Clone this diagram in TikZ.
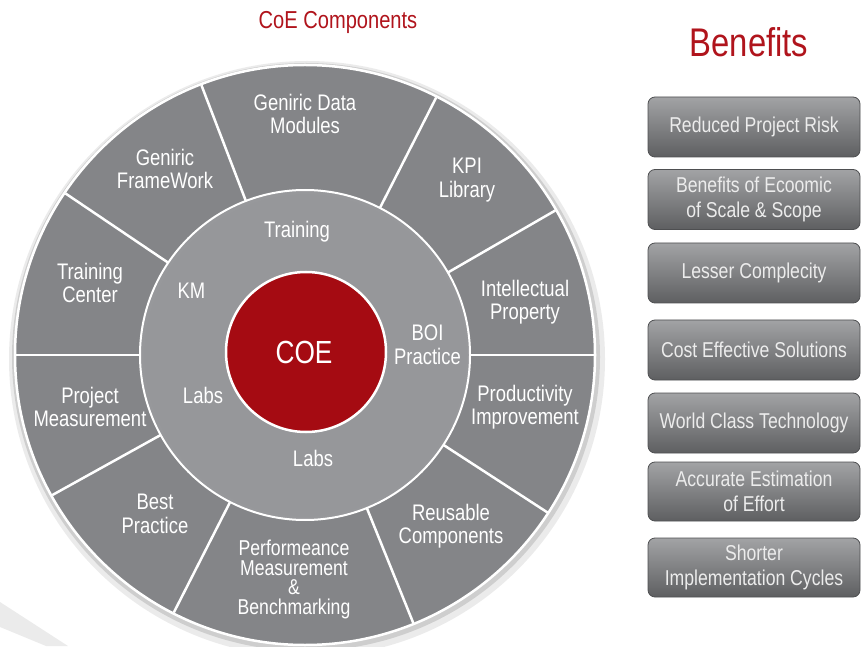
\documentclass[tikz,border=0pt]{standalone}
\usepackage{fontspec}
\setmainfont{Liberation Sans}[FakeStretch=0.82]
\usepackage{xcolor}
\usetikzlibrary{positioning}

\definecolor{coered}{HTML}{A50B12}
\definecolor{titlered}{HTML}{B0141C}
\definecolor{ringdark}{HTML}{5B5C5F}
\definecolor{ringmid}{HTML}{6D6E71}
\definecolor{ringlight}{HTML}{848588}
\definecolor{innerdark}{HTML}{96979A}
\definecolor{innerlight}{HTML}{B4B5B7}
\definecolor{boxtop}{HTML}{A2A3A5}
\definecolor{boxbot}{HTML}{5E5F61}
\definecolor{boxedge}{HTML}{4E4F51}
\definecolor{boxtext}{HTML}{ECECEC}
\definecolor{swoosh}{HTML}{EBEBEB}

\pgfdeclareradialshading{outershade}{\pgfpoint{0bp}{0bp}}{color(0bp)=(ringlight); color(28bp)=(ringlight); color(38bp)=(ringmid); color(50bp)=(ringdark)}
\pgfdeclareradialshading{innershade}{\pgfpoint{0bp}{0bp}}{color(0bp)=(innerdark); color(24bp)=(innerdark); color(50bp)=(innerlight)}

\tikzset{
  seglabel/.style={text=white,align=center,inner sep=0pt,font=\fontsize{22.5}{23.5}\selectfont},
  divider/.style={white,line width=2.5pt},
  benefit/.style={rectangle,rounded corners=7pt,draw=boxedge,line width=0.8pt,top color=boxtop,bottom color=boxbot,minimum width=212pt,minimum height=60pt,text=boxtext,align=center,inner sep=0pt,font=\fontsize{21.5}{25}\selectfont}
}

\begin{document}
\begin{tikzpicture}[x=1pt,y=1pt]
\useasboundingbox (0,0) rectangle (867,646);
\coordinate (c) at (305,291);

\fill[swoosh] (0,44) -- (68,0) -- (46,0) -- (0,19) -- cycle;

\fill[black,opacity=0.08] (c) ++(2,-4) circle (298);
\fill[black,opacity=0.12] (c) ++(1,-2) circle (294);
\shadedraw[shading=outershade,draw=white,line width=2.5pt] (c) circle (290);
\foreach \a in {0,30,63,111,146,180,209,243,292,327}
  \draw[divider,shift={(c)}] (\a:160) -- (\a:289);
\shadedraw[shading=innershade,draw=white,line width=2pt] (c) circle (165);
\node[circle,fill=coered,draw=white,line width=2.5pt,minimum size=160pt,inner sep=0pt] (core) at (306,294) {};
\node[text=white,font=\fontsize{32}{32}\selectfont,inner sep=0pt] (coe) at (304,293.5) {COE};

\node[seglabel] (gdm) at (305,532) {Geniric Data\\Modules};
\node[seglabel] (gfw) at (165,477) {Geniric\\FrameWork};
\node[seglabel] (kpi) at (467,466) {KPI\\Library};
\node[seglabel] (tc) at (90,363) {Training\\Center};
\node[seglabel] (ip) at (525,344) {Intellectual\\Property};
\node[seglabel] (pm) at (90,239) {Project\\Measurement};
\node[seglabel] (pi) at (525,239) {Productivity\\Improvement};
\node[seglabel] (bp) at (155,132) {Best\\Practice};
\node[seglabel] (rc) at (451,120) {Reusable\\Components};
\node[seglabel,font=\fontsize{21.5}{19.8}\selectfont] (perf) at (294,66.5) {Performeance\\Measurement\\\&\\Benchmarking};

\node[seglabel] (train) at (297,414.5) {Training};
\node[seglabel] (km) at (191.5,355) {KM};
\node[seglabel] (boi) at (427.5,301) {BOI\\Practice};
\node[seglabel] (labsl) at (203,251) {Labs};
\node[seglabel] (labsb) at (313,187.5) {Labs};

\node[text=titlered,font=\fontsize{24.5}{25}\selectfont,anchor=base] (comp) at (338,617) {CoE Components};
\node[text=titlered,font=\fontsize{40}{40}\selectfont,anchor=base] (ben) at (749,589) {Benefits};

\node[benefit] (b1) at (754,519) {Reduced Project Risk};
\node[benefit] (b2) at (754,446.5) {Benefits of Ecoomic\\of Scale \& Scope};
\node[benefit] (b3) at (754,373) {Lesser Complecity};
\node[benefit] (b4) at (754,296) {Cost Effective Solutions};
\node[benefit] (b5) at (754,223) {World Class Technology};
\node[benefit,minimum height=59pt] (b6) at (754,154.5) {Accurate Estimation\\of Effort};
\node[benefit,minimum height=59pt] (b7) at (754,78.5) {Shorter\\Implementation Cycles};
\end{tikzpicture}
\end{document}
